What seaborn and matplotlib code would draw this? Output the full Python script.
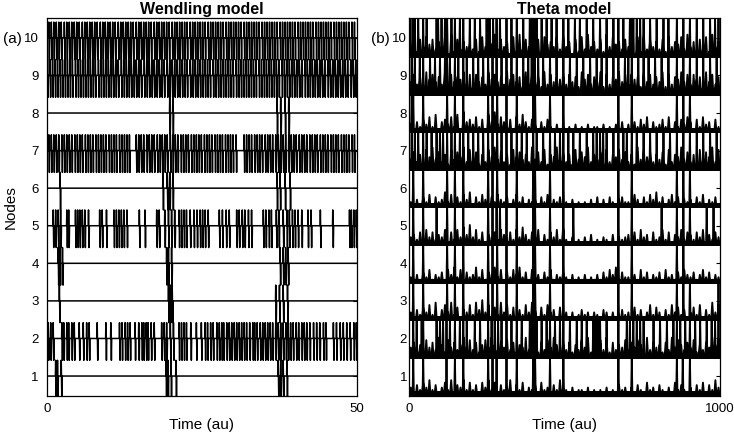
import matplotlib
matplotlib.use("Agg")
import matplotlib.pyplot as plt
import numpy as np
import pandas as pd
import seaborn as sns

NODES = list(range(1, 11))

# Wendling model: spike times (au) read per node
W_SPIKES_1 = [1.4, 1.7, 2.3, 19.2, 19.5, 20.0, 20.8, 37.3, 37.7, 38.1, 38.7]
W_SPIKES_2 = [0.2, 0.6, 1.0, 2.4, 2.7, 3.2, 3.5, 4.0, 4.4, 5.2, 5.85, 6.4, 6.8, 8.1,
              9.5, 10.3, 11.7, 12.1, 12.6, 13.0, 13.4, 14.2, 14.8, 15.3, 15.6, 16.0,
              16.3, 16.8, 17.3, 18.5, 18.9, 19.3, 19.9, 20.4, 21.3, 21.7, 22.1, 22.5,
              23.2, 24.1, 24.9, 25.5, 25.9, 26.4, 26.8, 27.4, 27.8, 28.2, 28.5, 29.0,
              29.4, 29.8, 30.2, 30.6, 31.0, 31.4, 31.8, 32.2, 32.7, 33.2, 33.5, 33.9,
              34.4, 34.8, 35.2, 35.6, 36.0, 36.4, 36.9, 37.3, 37.7, 38.1, 38.55, 38.9,
              39.3, 39.7, 40.2, 40.6, 41.1, 41.5, 41.9, 42.4, 43.0, 43.5, 44.0, 44.6,
              45.0, 46.2, 46.7, 47.3, 47.8, 48.35, 48.9, 49.5, 49.9]
W_SPIKES_3 = [2.0, 19.6, 19.9, 20.2, 36.9, 37.5, 38.1, 38.8]
W_SPIKES_4 = [1.8, 2.1, 2.5, 19.3, 19.6, 20.1, 37.6, 38.1, 38.5, 38.9]
W_SPIKES_5 = [1.0, 1.4, 1.8, 2.2, 3.2, 3.5, 4.6, 4.95, 5.3, 5.7, 6.1, 6.7, 8.5, 8.9,
              9.6, 10.8, 11.2, 11.6, 12.0, 12.4, 12.9, 14.9, 15.8, 17.7, 18.1, 19.0,
              19.6, 20.1, 20.6, 21.3, 21.7, 22.1, 22.5, 23.1, 23.7, 24.2, 24.7, 25.1,
              25.5, 26.0, 27.8, 28.3, 28.9, 29.4, 30.6, 31.0, 31.5, 31.9, 32.5, 33.0,
              34.9, 35.3, 35.8, 36.2, 37.0, 37.4, 38.1, 38.7, 39.1, 39.6, 40.0, 40.5,
              41.1, 42.1, 42.6, 44.1, 46.1, 48.8, 49.1, 49.5, 49.9]
W_SPIKES_6 = [2.1, 18.7, 19.4, 19.8, 20.3, 37.1, 37.6, 38.4, 39.2]
W_SPIKES_7 = [0.3, 0.7, 1.1, 1.5, 1.9, 2.4, 2.8, 3.2, 3.6, 4.0, 4.5, 4.9, 5.3, 5.7,
              6.2, 6.6, 7.0, 7.4, 7.9, 8.3, 8.7, 9.1, 9.5, 10.0, 10.4, 10.8, 11.2,
              11.7, 12.1, 12.5, 12.9, 13.3, 14.4, 14.8, 15.2, 15.6, 16.1, 16.5, 16.9,
              17.3, 17.8, 18.2, 18.6, 19.0, 19.4, 19.9, 20.3, 20.7, 21.1, 21.6, 22.0,
              22.4, 22.8, 23.3, 23.7, 24.1, 24.5, 24.9, 25.4, 25.8, 26.2, 26.6, 27.1,
              27.5, 27.9, 28.3, 28.8, 29.2, 29.6, 30.0, 30.5, 31.8, 32.2, 32.6, 33.0,
              33.5, 33.9, 34.3, 34.7, 35.2, 35.6, 36.0, 36.4, 36.9, 37.3, 37.7, 38.1,
              38.5, 39.0, 39.4, 39.8, 40.2, 40.7, 41.1, 41.5, 41.9, 42.4, 42.8, 43.2,
              43.6, 44.1, 44.5, 44.9, 45.3, 45.8, 46.2, 46.6, 47.0, 47.5, 47.9, 48.3,
              48.7, 49.2, 49.6]
W_SPIKES_8 = [19.8, 20.3, 37.1, 37.7, 38.4, 39.0]
W_SPIKES_9 = [0.1, 0.5, 0.9, 1.3, 1.7, 2.1, 2.5, 2.9, 3.3, 3.7, 4.1, 4.6, 5.0, 5.4,
              5.8, 6.2, 6.6, 7.0, 7.4, 7.8, 8.3, 8.7, 9.1, 9.5, 9.9, 10.3, 10.7, 11.1,
              11.5, 12.0, 12.4, 12.8, 13.2, 13.6, 14.0, 14.4, 14.8, 15.2, 15.7, 16.1,
              16.5, 16.9, 17.3, 17.7, 18.1, 18.5, 18.9, 19.4, 19.8, 20.2, 20.6, 21.0,
              21.4, 21.8, 22.2, 22.6, 23.1, 23.5, 23.9, 24.3, 24.7, 25.1, 25.5, 25.9,
              26.3, 26.8, 27.2, 27.6, 28.0, 28.4, 28.8, 29.2, 29.6, 30.0, 30.5, 30.9,
              31.3, 31.7, 32.1, 32.5, 32.9, 33.3, 33.7, 34.2, 34.6, 35.0, 35.4, 35.8,
              36.2, 36.6, 37.0, 37.4, 37.9, 38.3, 38.7, 39.1, 39.5, 39.9, 40.3, 40.7,
              41.1, 41.6, 42.0, 42.4, 42.8, 43.2, 43.6, 44.0, 44.4, 44.8, 45.3, 45.7,
              46.1, 46.5, 46.9, 47.3, 47.7, 48.1, 48.5, 49.0, 49.4, 49.8]
W_SPIKES_10 = [0.3, 0.7, 1.1, 1.5, 1.9, 2.3, 2.8, 3.2, 3.6, 4.0, 4.4, 4.8, 5.2, 5.7,
               6.1, 6.5, 6.9, 7.3, 7.7, 8.1, 8.6, 9.0, 9.4, 9.8, 10.2, 10.6, 11.0,
               11.5, 11.9, 12.3, 12.7, 13.1, 13.5, 13.9, 14.4, 14.8, 15.2, 15.6, 16.0,
               16.4, 16.8, 17.3, 17.7, 18.1, 18.5, 18.9, 19.3, 19.7, 20.2, 20.6, 21.0,
               21.4, 21.8, 22.2, 22.6, 23.1, 23.5, 23.9, 24.3, 24.7, 25.1, 25.5, 26.0,
               26.4, 26.8, 27.2, 27.6, 28.0, 28.4, 28.9, 29.3, 29.7, 30.1, 30.5, 30.9,
               31.3, 31.8, 32.2, 32.6, 33.0, 33.4, 33.8, 34.2, 34.7, 35.1, 35.5, 35.9,
               36.3, 36.7, 37.1, 37.6, 38.0, 38.4, 38.8, 39.2, 39.6, 40.0, 40.5, 40.9,
               41.3, 41.7, 42.1, 42.5, 42.9, 43.4, 43.8, 44.2, 44.6, 45.0, 45.4, 45.8,
               46.3, 46.7, 47.1, 47.5, 47.9, 48.3, 48.7, 49.2, 49.6]

# Theta model: times (au) of the full-height spikes per node
T_TALL_1 = [13, 45, 120, 147, 174, 254, 268, 281, 313, 346, 399, 405, 453, 496, 673,
            716, 861, 880, 903]
T_TALL_2 = [13, 24, 40, 45, 88, 99, 109, 120, 131, 147, 163, 174, 185, 211, 228, 254,
            265, 275, 286, 297, 313, 329, 346, 362, 388, 394, 399, 404, 410, 426, 442,
            453, 469, 485, 496, 517, 539, 555, 571, 592, 598, 603, 608, 614, 635, 673,
            700, 710, 721, 732, 743, 754, 786, 807, 829, 850, 861, 872, 888, 903, 920,
            936, 957, 973, 984, 995]
T_TALL_3 = [13, 45, 122, 147, 174, 254, 268, 283, 313, 346, 399, 405, 453, 496, 673,
            716, 861, 882, 903, 995]
T_TALL_4 = [13, 45, 122, 147, 174, 254, 268, 283, 313, 346, 399, 405, 453, 496, 673,
            716, 861, 882]
T_TALL_5 = [13, 45, 88, 122, 147, 174, 254, 268, 281, 292, 313, 346, 399, 405, 453,
            496, 528, 673, 716, 812, 861, 882, 903, 957, 979]
T_TALL_6 = [13, 45, 122, 147, 174, 254, 268, 283, 313, 346, 399, 405, 453, 496, 673,
            716, 861, 882, 903]
T_TALL_7 = [8, 18, 29, 45, 56, 72, 88, 99, 109, 122, 136, 147, 163, 174, 190, 206,
            222, 238, 254, 268, 283, 297, 313, 329, 346, 362, 378, 399, 410, 431, 453,
            469, 485, 496, 512, 528, 549, 571, 592, 603, 614, 624, 635, 657, 673, 689,
            700, 716, 732, 754, 775, 796, 818, 839, 861, 882, 903, 925, 946, 968, 989]
T_TALL_8 = [8, 13, 45, 122, 147, 174, 254, 268, 283, 313, 346, 399, 405, 453, 496,
            673, 716, 861, 882, 903]
T_TALL_9 = [8, 18, 34, 45, 67, 83, 99, 115, 122, 131, 147, 158, 174, 185, 206, 222,
            238, 254, 268, 281, 297, 313, 329, 346, 367, 383, 394, 399, 404, 415, 431,
            453, 474, 496, 517, 539, 560, 582, 603, 619, 635, 657, 673, 694, 705, 716,
            737, 754, 770, 791, 812, 834, 861, 882, 903, 925, 946, 968, 989]
T_TALL_10 = [4, 13, 18, 29, 45, 56, 88, 93, 104, 115, 122, 136, 147, 163, 174, 195,
             211, 228, 249, 254, 259, 270, 281, 292, 313, 329, 346, 367, 388, 394, 399,
             404, 410, 426, 442, 458, 474, 496, 512, 533, 549, 571, 592, 614, 635, 657,
             673, 689, 710, 716, 721, 732, 743, 754, 775, 796, 818, 834, 861, 882, 903,
             925, 946, 968, 984, 995]

# Theta model: small bump heights, one digit per 10 au bin (digit x 0.065 node units)
T_BUMPS_1 = "3142536241 3526143625 2415362514 2361425132 4152314263 2131221312 1213121423 1314215231 4213152421 3142514263"
T_BUMPS_2 = "4635274638 5274635847 3625748536 4736254837 5263748526 3625374825 4738263547 3647528364 5263847536 4725364857"
T_BUMPS_3 = "3142536271 4637251436 2748361527 3625142637 4152634152 3131242313 2143131242 3152413625 3142635241 3526142736"
T_BUMPS_4 = "2131425132 4153625142 3625143625 1425362415 2314251324 2131213121 3142536142 2131524132 4152314253 2413524132"
T_BUMPS_5 = "3425163524 3615263748 3625143526 4152637425 3614253627 2131213141 2132141323 4152634152 3625143625 4253614253"
T_BUMPS_6 = "2131425142 3625142536 1425314253 2413524132 3142513241 2131212131 4131421342 2153142536 2413524132 3142513241"
T_BUMPS_7 = "4736285947 3628475938 4726385947 3628574639 4738265947 3628475936 4728365847 3629485736 4728365947 3628475938"
T_BUMPS_8 = "3142536271 4536271845 3625174836 4251637425 3142521312 1213121312 2131213141 3142536142 3526142536 4152634152"
T_BUMPS_9 = "5847396857 4938576948 3857496857 4968573948 5739485769 4857396847 5938476958 4867395847 5938476958 4867395847"
T_BUMPS_10 = "3627485736 4819273645 3728465937 4618293745 3728564839 4617283946 3729485637 4618293746 3728465839 4617382946"

W_TMAX = 50
T_TMAX = 1000

W_SPIKES = [W_SPIKES_1, W_SPIKES_2, W_SPIKES_3, W_SPIKES_4, W_SPIKES_5,
            W_SPIKES_6, W_SPIKES_7, W_SPIKES_8, W_SPIKES_9, W_SPIKES_10]
T_TALL = [T_TALL_1, T_TALL_2, T_TALL_3, T_TALL_4, T_TALL_5,
          T_TALL_6, T_TALL_7, T_TALL_8, T_TALL_9, T_TALL_10]
T_BUMPS = [T_BUMPS_1, T_BUMPS_2, T_BUMPS_3, T_BUMPS_4, T_BUMPS_5,
           T_BUMPS_6, T_BUMPS_7, T_BUMPS_8, T_BUMPS_9, T_BUMPS_10]


def wendling_traces():
    rows = []
    for node, spikes in zip(NODES, W_SPIKES):
        pts = [(0.0, node)]
        for t in sorted(spikes):
            pts += [(t - 0.04, node), (t, node + 0.42), (t + 0.09, node - 0.58), (t + 0.14, node)]
        pts.append((W_TMAX, node))
        rows += [{"node": node, "time": x, "value": y} for x, y in pts]
    return pd.DataFrame(rows)


def theta_traces():
    rows = []
    for node, tall, bumps in zip(NODES, T_TALL, T_BUMPS):
        base = node - 0.5
        heights = [int(c) * 0.065 for c in bumps.replace(" ", "")]
        bin_w = T_TMAX / len(heights)
        events = [(bin_w * (i + 0.5), h, 3.5) for i, h in enumerate(heights)]
        events += [(t, 1.0, 2.0) for t in tall]
        events.sort()
        pts = [(0.0, base)]
        for t, h, w in events:
            pts += [(t - w, base), (t, base + h), (t + w, base)]
        pts.append((T_TMAX, base))
        rows += [{"node": node, "time": x, "value": y} for x, y in pts]
    return pd.DataFrame(rows)


sns.set_theme(style="white")
plt.rcParams["font.family"] = ["Liberation Sans", "DejaVu Sans"]
plt.rcParams["text.color"] = "black"
plt.rcParams["axes.labelcolor"] = "black"

fig = plt.figure(figsize=(7.34, 4.38), dpi=100)
ax_w = fig.add_axes([0.064, 0.096, 0.4223, 0.863])
ax_t = fig.add_axes([0.5575, 0.096, 0.4235, 0.863])

sns.lineplot(data=wendling_traces(), x="time", y="value", units="node",
             estimator=None, sort=False, color="black", linewidth=1.1,
             legend=False, ax=ax_w)
sns.lineplot(data=theta_traces(), x="time", y="value", units="node",
             estimator=None, sort=False, color="black", linewidth=1.35,
             legend=False, ax=ax_t)
ax_t.hlines([n - 0.46 for n in NODES], 0, T_TMAX, color="black", linewidth=3.6)

for ax, tmax, title in [(ax_w, W_TMAX, "Wendling model"), (ax_t, T_TMAX, "Theta model")]:
    ax.set_xlim(0, tmax)
    ax.set_ylim(0.47, 10.53)
    ax.set_xticks([0, tmax])
    ax.set_yticks(NODES)
    ax.set_title(title, fontsize=11.5, fontweight="bold", pad=3, color="black")
    ax.set_xlabel("Time (au)", fontsize=11, labelpad=2, color="black")
    ax.set_ylabel("")
    ax.tick_params(direction="in", length=3, width=0.8, right=True,
                   labelsize=9.5, colors="black", pad=5)
    for spine in ax.spines.values():
        spine.set_color("black")
        spine.set_linewidth(0.9)

ax_w.tick_params(axis="y", pad=6)
ax_t.tick_params(axis="y", pad=1.5)

ax_w.set_ylabel("Nodes", fontsize=11, labelpad=4, color="black")
fig.text(0.004, 0.912, "(a)", fontsize=11, ha="left", va="center", color="black")
fig.text(0.506, 0.912, "(b)", fontsize=11, ha="left", va="center", color="black")

fig.savefig("out.png", dpi=100)
